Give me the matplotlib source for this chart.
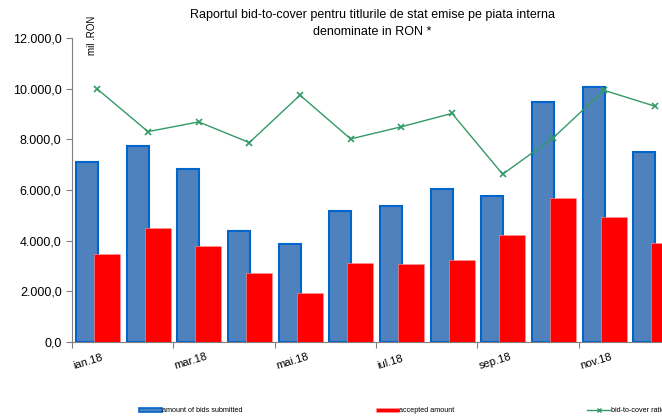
import numpy as np
import matplotlib
matplotlib.use("Agg")
import matplotlib.pyplot as plt
import matplotlib.transforms as mtransforms
from matplotlib.ticker import FuncFormatter
from matplotlib.lines import Line2D
from matplotlib.patches import Patch

plt.rcParams['font.family'] = ['Liberation Sans', 'DejaVu Sans']

# data
months = ['ian.18', 'feb.18', 'mar.18', 'apr.18', 'mai.18', 'iun.18',
          'iul.18', 'aug.18', 'sep.18', 'oct.18', 'nov.18', 'dec.18']
bids = [7110, 7730, 6810, 4390, 3850, 5170, 5365, 6020, 5760, 9480, 10060, 7495]
accepted = [3460, 4485, 3800, 2710, 1920, 3130, 3080, 3235, 4220, 5690, 4945, 3915]
ratio = [2.08, 1.73, 1.81, 1.64, 2.03, 1.67, 1.77, 1.88, 1.38, 1.68, 2.07, 1.94]

x = np.arange(len(months))

fig = plt.figure(figsize=(6.62, 4.18), dpi=100)
ax = fig.add_axes([72 / 662, 76 / 418, 608 / 662, 304 / 418])

# bars
ax.bar(x - 0.205, bids, width=0.43, color='#4F81BD', edgecolor='#0066CC',
       linewidth=1.5, zorder=2, label='amount of bids submitted')
ax.bar(x + 0.19, accepted, width=0.51, color='#FF0000', edgecolor='#FF9999',
       linewidth=0.4, zorder=3, label='accepted amount')

ax.set_xlim(-0.5, 11.5)
ax.set_ylim(0, 12000)
ax.set_yticks(np.arange(0, 12001, 2000))
ax.yaxis.set_major_formatter(FuncFormatter(
    lambda v, p: f"{v:,.1f}".replace(',', 'X').replace('.', ',').replace('X', '.')))

# category ticks between months, label every second one
tick_pos = np.arange(-0.5, 11.5, 2)
ax.set_xticks(tick_pos)
ax.set_xticklabels(months[::2], rotation=17, ha='left', rotation_mode='anchor',
                   fontsize=8)
shift = mtransforms.ScaledTranslation(-6 / 100, 0, fig.dpi_scale_trans)
for lbl in ax.get_xticklabels():
    lbl.set_transform(lbl.get_transform() + shift)

for s in ['top', 'right']:
    ax.spines[s].set_visible(False)
for s in ['left', 'bottom']:
    ax.spines[s].set_color('#808080')
ax.tick_params(axis='both', colors='#808080', labelcolor='black',
               length=4, direction='out')
ax.tick_params(axis='y', labelsize=9)
ax.tick_params(axis='x', pad=10)

# bid-to-cover line on a hidden secondary scale
ax2 = ax.twinx()
ax2.plot(x, ratio, color='#339966', linewidth=1, marker='x', markersize=4,
         markeredgewidth=1.2, zorder=4)
ax2.set_ylim(0, 2.5)
ax2.axis('off')

# title and unit
fig.text(372 / 662, 1 - 9 / 418,
         'Raportul bid-to-cover pentru titlurile de stat emise pe piata interna\n'
         'denominate in RON *', fontsize=9, ha='center', va='top',
         linespacing=1.55)
fig.text(92 / 662, 1 - 35 / 418, 'mil .RON', rotation=90, fontsize=7,
         ha='center', va='center')

# legend
handles = [Patch(facecolor='#4F81BD', edgecolor='#0066CC', linewidth=1.2),
           Patch(facecolor='#FF0000', edgecolor='#FF9999', linewidth=0.4),
           Line2D([], [], color='#339966', linewidth=1, marker='x', markersize=3)]
labels = ['amount of bids submitted', 'accepted amount', 'bid-to-cover ratio']
fig.legend(handles, labels, loc='center left', bbox_to_anchor=(136 / 662, 7 / 418),
           ncol=3, frameon=False, fontsize=5.2, handlelength=3.2, handleheight=0.45,
           handletextpad=0.05, columnspacing=18.4, borderaxespad=0)

fig.savefig('out.png', dpi=100)
